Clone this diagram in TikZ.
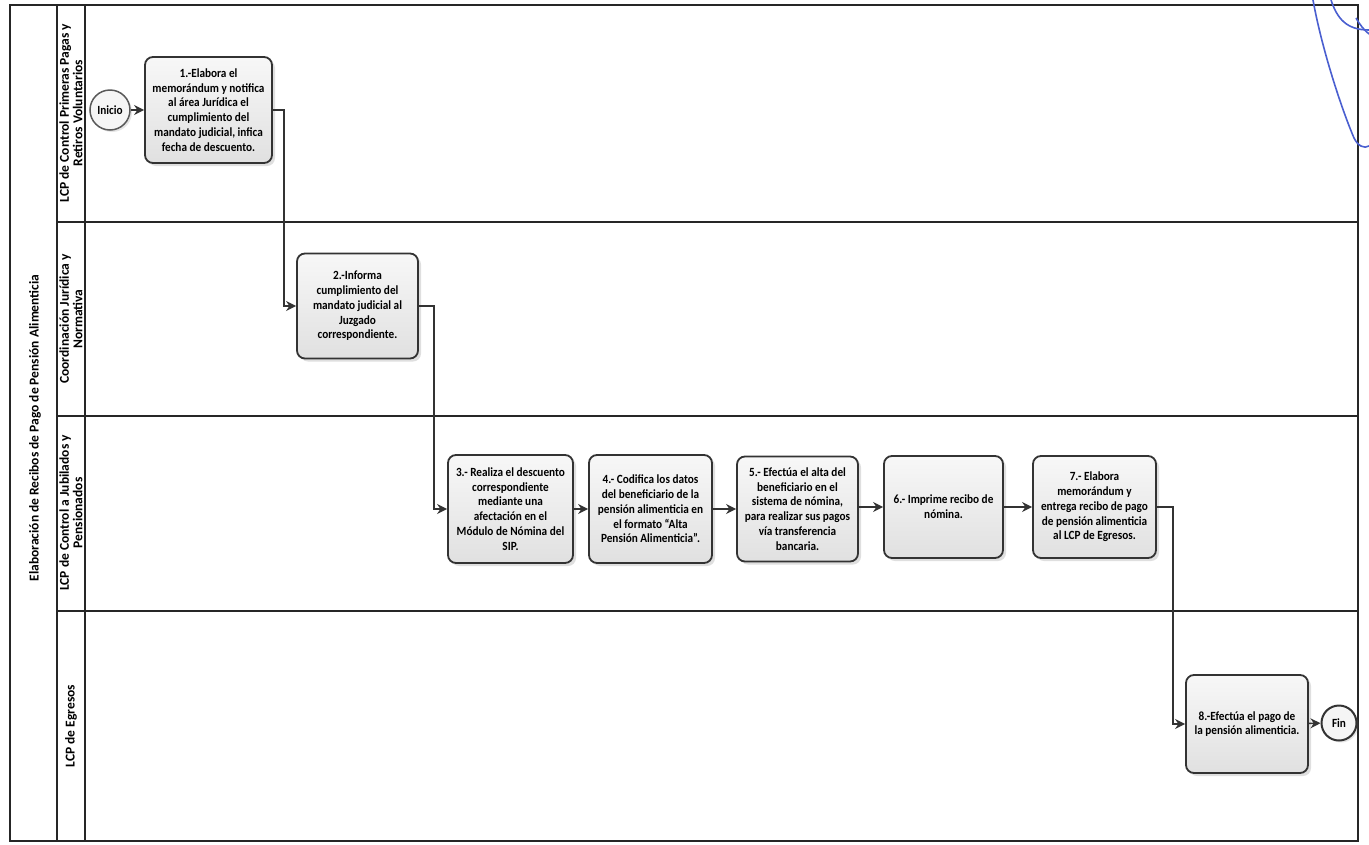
\documentclass[tikz,border=0pt]{standalone}
\usepackage{fontspec}
\setmainfont{Carlito}[FakeStretch=0.9]
\newfontfamily\lblfont{Carlito}
\usetikzlibrary{shadows,arrows.meta}
\definecolor{boxline}{HTML}{333333}
\definecolor{frameline}{HTML}{262626}
\definecolor{inkblue}{HTML}{4A5FD0}
\begin{document}
\begin{tikzpicture}[x=1pt,y=-1pt,
  frame/.style={draw=frameline,line width=1.3pt},
  lanelabel/.style={rotate=90,align=center,font=\lblfont\fontsize{13.5}{13.5}\selectfont\bfseries},
  stepbox/.style={draw=boxline,line width=1.8pt,rounded corners=8pt,
    top color=gray!6,bottom color=gray!24,align=center,inner sep=2pt,
    font=\fontsize{12.5}{14.8}\selectfont\bfseries,
    drop shadow={opacity=0.25,shadow xshift=3pt,shadow yshift=-3pt}},
  event/.style={circle,draw=gray!70!black,line width=1.5pt,fill=gray!8,
    inner sep=0pt,font=\fontsize{12.5}{13}\selectfont\bfseries,
    drop shadow={opacity=0.2,shadow xshift=2pt,shadow yshift=-2pt}},
  flow/.style={draw=boxline,line width=1.5pt,-{Stealth[length=10pt,width=10pt]}}
]
\useasboundingbox (0,0) rectangle (1369,844);
\fill[white] (0,0) rectangle (1369,844);

% frame and lanes
\draw[frame] (10,5) rectangle (1358,841);
\draw[frame] (57,5) -- (57,841);
\draw[frame] (85,5) -- (85,841);
\draw[frame] (57,222) -- (1358,222);
\draw[frame] (57,416) -- (1358,416);
\draw[frame] (57,611) -- (1358,611);

\node[lanelabel] (title) at (35,428) {Elaboración de Recibos de Pago de Pensión Alimenticia};
\node[lanelabel] (l1) at (71,113) {LCP de Control Primeras Pagas y\\Retiros Voluntarios};
\node[lanelabel] (l2) at (71,319) {Coordinación Jurídica y\\Normativa};
\node[lanelabel] (l3) at (71,513) {LCP de Control a Jubilados y\\Pensionados};
\node[lanelabel] (l4) at (71,726) {LCP de Egresos};

% nodes
\node[event,minimum size=40pt] (ini) at (110,110) {Inicio};
\node[stepbox,minimum width=127pt,minimum height=106pt] (b1) at (208.5,110)
  {1.-Elabora el\\memorándum y notifica\\al área Jurídica el\\cumplimiento del\\mandato judicial, infica\\fecha de descuento.};
\node[stepbox,minimum width=121pt,minimum height=105pt] (b2) at (357.5,306)
  {2.-Informa\\cumplimiento del\\mandato judicial al\\Juzgado\\correspondiente.};
\node[stepbox,minimum width=125pt,minimum height=108pt] (b3) at (510.5,509)
  {3.- Realiza el descuento\\correspondiente\\mediante una\\afectación en el\\Módulo de Nómina del\\SIP.};
\node[stepbox,minimum width=123pt,minimum height=108pt] (b4) at (650.5,509)
  {4.- Codifica los datos\\del beneficiario de la\\pensión alimenticia en\\el formato ``Alta\\Pensión Alimenticia''.};
\node[stepbox,minimum width=121pt,minimum height=105pt] (b5) at (797.5,509)
  {5.- Efectúa el alta del\\beneficiario en el\\sistema de nómina,\\para realizar sus pagos\\vía transferencia\\bancaria.};
\node[stepbox,minimum width=119pt,minimum height=102pt] (b6) at (943.5,507)
  {6.- Imprime recibo de\\nómina.};
\node[stepbox,minimum width=123pt,minimum height=102pt] (b7) at (1094.5,507)
  {7.- Elabora\\memorándum y\\entrega recibo de pago\\de pensión alimenticia\\al LCP de Egresos.};
\node[stepbox,minimum width=122pt,minimum height=98pt] (b8) at (1247,724)
  {8.-Efectúa el pago de\\la pensión alimenticia.};
\node[event,minimum size=35pt,draw=gray!40!black,line width=2pt] (fin) at (1339,723) {Fin};

% connectors
\draw[flow] (ini) -- (b1);
\draw[flow] (b1.east) -- ++(11,0) |- (b2.west);
\draw[flow] (b2.east) -- ++(15,0) |- (b3.west);
\draw[flow] (b3) -- (b4);
\draw[flow] (b4) -- (b5);
\draw[flow] (b5.east |- b6.west) -- (b6.west);
\draw[flow] (b6) -- (b7);
\draw[flow] (b7.east) -- ++(16,0) |- (b8.west);
\draw[flow] (b8) -- (fin);

% handwritten mark
\draw[inkblue,line width=1.6pt] (1313,0) .. controls (1322,50) and (1342,110) .. (1354,138) .. controls (1358,146) and (1364,149) .. (1369,146);
\draw[inkblue,line width=1.6pt] (1331,0) .. controls (1337,18) and (1346,30) .. (1369,30);
\draw[inkblue,line width=1.6pt] (1356,18) .. controls (1360,25) and (1364,30) .. (1369,34);
\end{tikzpicture}
\end{document}
